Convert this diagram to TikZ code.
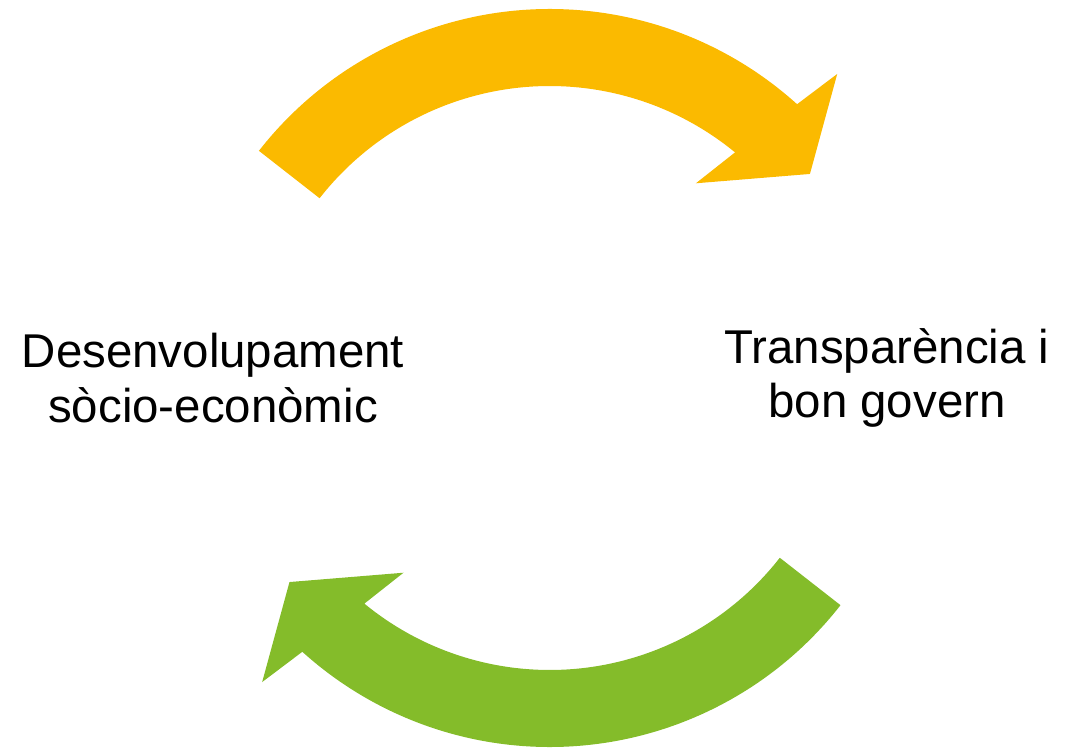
\documentclass[tikz,border=0pt]{standalone}
\usepackage{fontspec}
\setmainfont{Liberation Sans}
\usepackage{tikz}
\definecolor{cycleorange}{RGB}{251,186,0}
\definecolor{cyclegreen}{RGB}{132,188,42}

\begin{document}
\begin{tikzpicture}[x=0.02cm,y=0.02cm,
	labeltext/.style={align=center,inner sep=0pt,font=\fontsize{27}{31}\selectfont},
	cyclearrow/.style={draw=none}]
	\useasboundingbox (0,0) rectangle (1078,748);
	\coordinate (centre) at (549.7,370);

	\node (socio) [labeltext] at (213,370) {Desenvolupament\\sòcio-econòmic};
	\node (govern) [labeltext] at (887,370) {Transparència i\\bon govern};

	\foreach \turn/\col in {0/cycleorange,180/cyclegreen}
		\fill[cyclearrow,\col,shift={(centre)},rotate=\turn]
			(142:369) arc[start angle=142,end angle=47.9,radius=369]
			-- (46.6:418.5) -- (38.1:330.7) -- (53.1:243.5) -- (50.6:292)
			arc[start angle=50.6,end angle=142,radius=292] -- cycle;
\end{tikzpicture}
\end{document}
